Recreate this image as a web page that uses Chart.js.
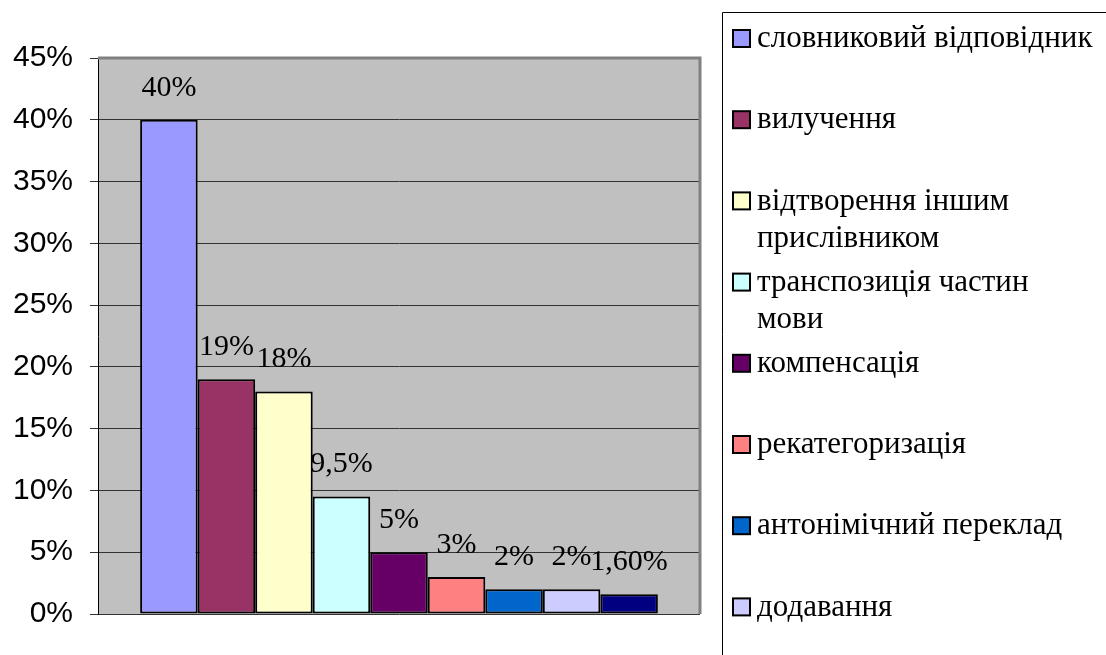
<!DOCTYPE html>
<html>
<head>
<meta charset="utf-8">
<script src="https://cdn.jsdelivr.net/npm/chart.js@4/dist/chart.umd.min.js"></script>
<style>
  html, body { margin: 0; padding: 0; background: #fff; }
  #wrap { width: 1106px; height: 655px; position: relative; }
</style>
</head>
<body>
<div id="wrap"><canvas id="methodsChart"></canvas></div>
<script>
// series names (9th one is cut off in the source picture)
const seriesNames = [
    "словниковий відповідник",
    "вилучення",
    "відтворення іншим прислівником",
    "транспозиція частин мови",
    "компенсація",
    "рекатегоризація",
    "антонімічний переклад",
    "додавання",
    ""
];
const seriesValues = [40, 19, 18, 9.5, 5, 3, 2, 2, 1.6];
const valueLabels = ["40%", "19%", "18%", "9,5%", "5%", "3%", "2%", "2%", "1,60%"];
const seriesColors = ["#9999FF", "#993366", "#FFFFCC", "#CCFFFF", "#660066",
                      "#FF8080", "#0066CC", "#CCCCFF", "#000080"];

const serif = "'Liberation Serif', 'Times New Roman', serif";

// gray plot background and the gray frame on top/right
const plotArea = {
    id: "plotArea",
    beforeDraw(chart) {
        const ctx = chart.ctx, a = chart.chartArea;
        ctx.save();
        ctx.fillStyle = "#fff";
        ctx.fillRect(0, 0, chart.width, chart.height);
        ctx.fillStyle = "#C0C0C0";
        ctx.fillRect(a.left, a.top, a.right - a.left, a.bottom - a.top);
        ctx.restore();
    },
    beforeDatasetsDraw(chart) {
        const ctx = chart.ctx, a = chart.chartArea;
        ctx.save();
        ctx.strokeStyle = "#808080";
        ctx.lineWidth = 3;
        ctx.beginPath();
        ctx.moveTo(a.left, a.top);
        ctx.lineTo(a.right, a.top);
        ctx.lineTo(a.right, a.bottom);
        ctx.stroke();
        ctx.restore();
    }
};

// value labels above each bar
const barLabels = {
    id: "barLabels",
    afterDatasetsDraw(chart) {
        const ctx = chart.ctx;
        ctx.save();
        ctx.font = "30px " + serif;
        ctx.fillStyle = "#000";
        ctx.textAlign = "center";
        ctx.textBaseline = "middle";
        chart.data.datasets.forEach((ds, i) => {
            const bar = chart.getDatasetMeta(i).data[0];
            ctx.fillText(valueLabels[i], bar.x, bar.y - 32);
        });
        ctx.restore();
    }
};

// Excel-like legend box on the right, with wrapped names
const boxLegend = {
    id: "boxLegend",
    afterDraw(chart) {
        const ctx = chart.ctx;
        const left = 722, top = 12, maxW = 342;
        ctx.save();
        ctx.strokeStyle = "#000";
        ctx.lineWidth = 1;
        ctx.beginPath();
        ctx.moveTo(left + 0.5, chart.height + 5);
        ctx.lineTo(left + 0.5, top + 0.5);
        ctx.lineTo(chart.width + 5, top + 0.5);
        ctx.stroke();

        ctx.font = "31px " + serif;
        ctx.textBaseline = "middle";
        ctx.textAlign = "left";
        chart.data.datasets.forEach((ds, i) => {
            if (!ds.label) return;
            const y = 39 + i * 81.2;
            ctx.fillStyle = ds.backgroundColor;
            ctx.fillRect(733, y - 9, 17, 17);
            ctx.strokeStyle = "#000";
            ctx.lineWidth = 2;
            ctx.strokeRect(733, y - 9, 17, 17);

            // wrap words
            const words = ds.label.split(" ");
            const lines = [];
            let cur = "";
            words.forEach(w => {
                const t = cur ? cur + " " + w : w;
                if (ctx.measureText(t).width > maxW && cur) {
                    lines.push(cur);
                    cur = w;
                } else {
                    cur = t;
                }
            });
            lines.push(cur);
            ctx.fillStyle = "#000";
            lines.forEach((ln, k) => ctx.fillText(ln, 757, y + k * 37));
        });
        ctx.restore();
    }
};

new Chart("methodsChart", {
    type: "bar",
    data: {
        labels: [""],
        datasets: seriesNames.map((name, i) => ({
            label: name,
            data: [seriesValues[i]],
            backgroundColor: seriesColors[i],
            borderColor: "#000",
            borderWidth: 2,
            borderSkipped: false
        }))
    },
    options: {
        responsive: true,
        maintainAspectRatio: false,
        animation: false,
        layout: {
            padding: { top: 58, right: 406, bottom: 41, left: 0 }
        },
        datasets: {
            bar: { categoryPercentage: 0.86, barPercentage: 1 }
        },
        scales: {
            x: { display: false },
            y: {
                min: 0,
                max: 45,
                afterFit: function (scale) { scale.width = 98; },
                ticks: {
                    stepSize: 5,
                    padding: 17,
                    color: "#000",
                    font: { family: "'Liberation Sans', Arial, sans-serif", size: 30 },
                    callback: function (v) { return v + "%"; }
                },
                grid: {
                    color: function (c) { return c.tick && c.tick.value === 45 ? "#808080" : "#333333"; },
                    tickColor: "#333333",
                    tickLength: 8,
                    lineWidth: 1
                },
                border: { color: "#000", width: 1 }
            }
        },
        plugins: {
            legend: { display: false },
            tooltip: { enabled: false }
        }
    },
    plugins: [plotArea, barLabels, boxLegend]
});
</script>
</body>
</html>
